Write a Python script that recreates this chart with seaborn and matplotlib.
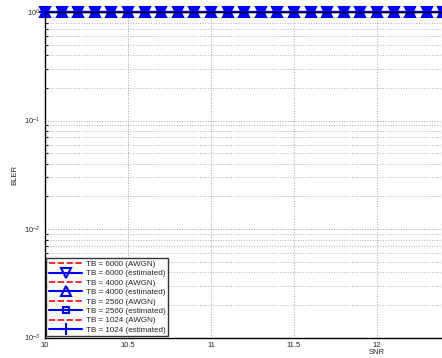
import matplotlib
matplotlib.use("Agg")
import matplotlib.pyplot as plt
import matplotlib.ticker as mtick
import seaborn as sns

# SNR sweep (dB) and simulated block error rates
snr = [10.0, 10.1, 10.2, 10.3, 10.4, 10.5, 10.6, 10.7, 10.8, 10.9,
       11.0, 11.1, 11.2, 11.3, 11.4, 11.5, 11.6, 11.7, 11.8, 11.9,
       12.0, 12.1, 12.2, 12.3, 12.4, 12.5, 12.6, 12.7, 12.8, 12.9,
       13.0, 13.1, 13.2, 13.3, 13.4, 13.5, 13.6, 13.7, 13.8, 13.9, 14.0]
ones = [1.0, 1.0, 1.0, 1.0, 1.0, 1.0, 1.0, 1.0, 1.0, 1.0,
        1.0, 1.0, 1.0, 1.0, 1.0, 1.0, 1.0, 1.0, 1.0, 1.0,
        1.0, 1.0, 1.0, 1.0, 1.0, 1.0, 1.0, 1.0, 1.0, 1.0,
        1.0, 1.0, 1.0, 1.0, 1.0, 1.0, 1.0, 1.0, 1.0, 1.0, 1.0]
bler_6000_awgn = list(ones)
bler_6000_est = list(ones)
bler_4000_awgn = list(ones)
bler_4000_est = list(ones)
bler_2560_awgn = list(ones)
bler_2560_est = list(ones)
bler_1024_awgn = list(ones)
bler_1024_est = list(ones)

labels = ['TB = 6000 (AWGN)', 'TB = 6000 (estimated)',
          'TB = 4000 (AWGN)', 'TB = 4000 (estimated)',
          'TB = 2560 (AWGN)', 'TB = 2560 (estimated)',
          'TB = 1024 (AWGN)', 'TB = 1024 (estimated)']
series = [bler_6000_awgn, bler_6000_est, bler_4000_awgn, bler_4000_est,
          bler_2560_awgn, bler_2560_est, bler_1024_awgn, bler_1024_est]
markers = [None, 'v', None, '^', None, 's', None, '+']
msizes = [None, 6.5, None, 6.5, None, 5, None, 8]
xticks = [10, 10.5, 11, 11.5, 12]

sns.set_style("white")
plt.rcParams['font.family'] = ['Liberation Sans', 'DejaVu Sans']
plt.rcParams['mathtext.fontset'] = 'dejavusans'

fig = plt.figure(figsize=(4.42, 3.58), dpi=100)
# axes run past the right edge of the figure, as in the cropped original
ax = fig.add_axes([45 / 442, 20.5 / 358, 664 / 442, 325.5 / 358])

for vals, lab, mk, ms in zip(series, labels, markers, msizes):
    if mk is None:
        sns.lineplot(x=snr, y=vals, ax=ax, color='red', linestyle='--',
                     linewidth=1.2, label=lab)
    else:
        sns.lineplot(x=snr, y=vals, ax=ax, color='blue', linestyle='-',
                     linewidth=1.5, marker=mk, markersize=ms,
                     markerfacecolor='none', markeredgecolor='blue',
                     markeredgewidth=1.5, label=lab, clip_on=False)

ax.set_yscale('log')
ax.set_xlim(10, 14)
ax.set_ylim(1e-3, 1)
ax.set_xticks(xticks)
ax.xaxis.set_major_formatter(mtick.FormatStrFormatter('%g'))
ax.yaxis.set_minor_locator(mtick.LogLocator(base=10, subs=range(2, 10)))

ax.grid(True, which='major', axis='both', color='#a0a0a0',
        linestyle=':', linewidth=0.7)
ax.grid(True, which='minor', axis='y', color='#b0b0b0',
        linestyle=':', linewidth=0.7)
ax.tick_params(which='both', direction='in', top=False, right=False,
               labelsize=5.5, pad=3, width=0.8)
ax.tick_params(which='major', length=5)
ax.tick_params(which='minor', length=2.5, left=True)
for sp in ax.spines.values():
    sp.set_color('black')
    sp.set_linewidth(1.0)

ax.set_xlabel('SNR', fontsize=5.5, labelpad=0)
ax.set_ylabel('BLER', fontsize=5.5, labelpad=4)

leg = ax.legend(loc='lower left', fontsize=5.8, frameon=True, fancybox=False,
                handlelength=4.2, borderaxespad=0.15, labelspacing=0.22,
                handletextpad=0.4, borderpad=0.3, markerscale=1.0)
leg.get_frame().set_edgecolor('black')
leg.get_frame().set_linewidth(1.0)

fig.savefig('out.png', dpi=100)
